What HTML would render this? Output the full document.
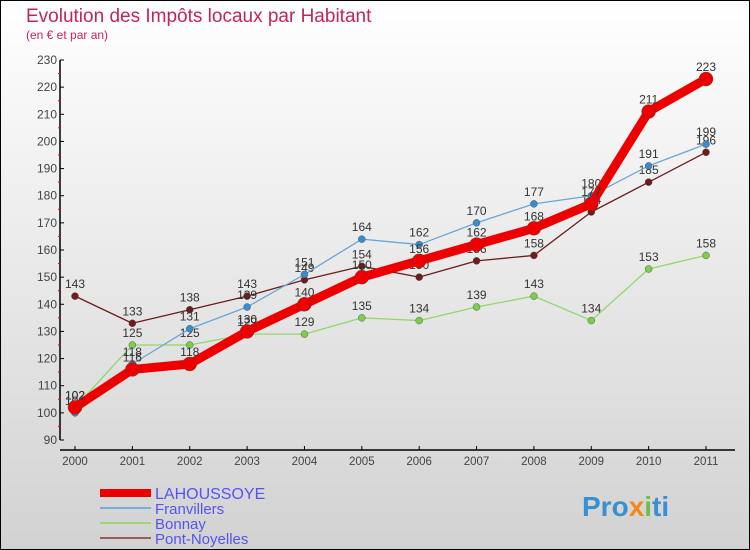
<!DOCTYPE html>
<html><head><meta charset="utf-8"><style>
body{margin:0}
#wrap{width:750px;height:550px;position:relative;overflow:hidden}
svg{position:absolute;left:0;top:0}
</style></head><body>
<div id="wrap">
<svg id="c" width="750" height="550" xmlns="http://www.w3.org/2000/svg">
<defs><linearGradient id="bg" x1="0" y1="0" x2="0" y2="1"><stop offset="0" stop-color="#ffffff"/><stop offset="1" stop-color="#d2d2d2"/></linearGradient></defs>
<rect x="0.5" y="0.5" width="749" height="549" fill="url(#bg)" stroke="#000"/>
<text x="26" y="22" font-family="Liberation Sans, sans-serif" font-size="19" fill="#c2255c">Evolution des Impôts locaux par Habitant</text>
<text x="26" y="39" font-family="Liberation Sans, sans-serif" font-size="12" fill="#c2255c">(en € et par an)</text>
<g id="axes"></g><g id="series"></g><g id="legend"></g>
<text x="582" y="516" font-family="Liberation Sans, sans-serif" font-size="28" font-weight="bold" fill="#3a8fd0">Pro<tspan fill="#f08a1c">x</tspan><tspan fill="#6cc04a">i</tspan>ti</text>
</svg>
</div>
<script>
const years=[2000,2001,2002,2003,2004,2005,2006,2007,2008,2009,2010,2011];
const yTicks=[90,100,110,120,130,140,150,160,170,180,190,200,210,220,230];
const lahoussoye=[102,116,118,130,140,150,156,162,168,177,211,223];
const franvillers=[100,118,131,139,151,164,162,170,177,180,191,199];
const bonnay=[102,125,125,129,129,135,134,139,143,134,153,158];
const pontNoyelles=[143,133,138,143,149,154,150,156,158,174,185,196];
const seriesNames=["LAHOUSSOYE","Franvillers","Bonnay","Pont-Noyelles"];
const NS="http://www.w3.org/2000/svg";
const X=i=>75+i*(706-75)/11;
const Y=v=>440-(v-90)*(380/140);
function mk(tag,attrs,parent){const e=document.createElementNS(NS,tag);for(const k in attrs)e.setAttribute(k,attrs[k]);parent.appendChild(e);return e;}
const ax=document.getElementById('axes');
let e=mk('line',{x1:60,y1:60,x2:60,y2:440,stroke:'#000','stroke-width':1.5},ax);


e=mk('line',{x1:60,y1:450,x2:735,y2:450,stroke:'#000','stroke-width':1.5},ax);


yTicks.forEach(t=>{
  mk('line',{x1:60,y1:Y(t),x2:64,y2:Y(t),stroke:'#000'},ax);
  if(t<230) mk('line',{x1:58,y1:Y(t+5),x2:61,y2:Y(t+5),stroke:'#e00'},ax);
  const tx=mk('text',{x:57,y:Y(t)+4,'text-anchor':'end','font-family':'Liberation Sans, sans-serif','font-size':12,fill:'#444'},ax);
  tx.textContent=t;
  
  
});
years.forEach((yr,i)=>{
  mk('line',{x1:X(i),y1:446,x2:X(i),y2:450,stroke:'#000'},ax);
  const tx=mk('text',{x:X(i),y:465,'text-anchor':'middle','font-family':'Liberation Sans, sans-serif','font-size':11.5,fill:'#444'},ax);
  tx.textContent=yr;
  
  
});
const sg=document.getElementById('series');
const defs=[
 {d:pontNoyelles,c:'#6e1c1c',w:1.3,r:3.5,name:'series-pont-noyelles'},
 {d:bonnay,c:'#8fd86a',w:1.3,r:3.5,fill:'#7ccd4a',name:'series-bonnay'},
 {d:franvillers,c:'#6aa6d8',w:1.3,r:3.5,fill:'#3b8ccc',name:'series-franvillers'},
 {d:lahoussoye,c:'#ee0000',w:9,r:7,name:'series-lahoussoye'}];
defs.forEach(s=>{
  const g=mk('g',{},sg);
  
  
  const pl=mk('polyline',{points:s.d.map((v,i)=>X(i)+','+Y(v)).join(' '),fill:'none',stroke:s.c,'stroke-width':s.w,'stroke-linejoin':'round'},g);
  
  
  s.d.forEach((v,i)=>{
    const p=mk('circle',{cx:X(i),cy:Y(v),r:s.r,fill:s.fill||s.c,stroke:'#444','stroke-width':0.4},g);
    
    
    const t=mk('text',{x:X(i),y:Y(v)-8,'text-anchor':'middle','font-family':'Liberation Sans, sans-serif','font-size':12,fill:'#333'},g);
    t.textContent=v;
    
    
  });
});
const lg=document.getElementById('legend');
const lc=['#ee0000','#7aaed6','#9ad870','#9a5c5c'],lw=[8,2,2,2];
seriesNames.forEach((n,i)=>{
  const y=493+i*15;
  const g=mk('g',{},lg);
  
  
  mk('line',{x1:100,y1:y,x2:151,y2:y,stroke:lc[i],'stroke-width':lw[i]},g);
  const t=mk('text',{x:155,y:y+6,'font-family':'Liberation Sans, sans-serif','font-size':i==0?16:15,fill:'#5555ee'},g);
  t.textContent=n;
});
</script>
</body></html>
